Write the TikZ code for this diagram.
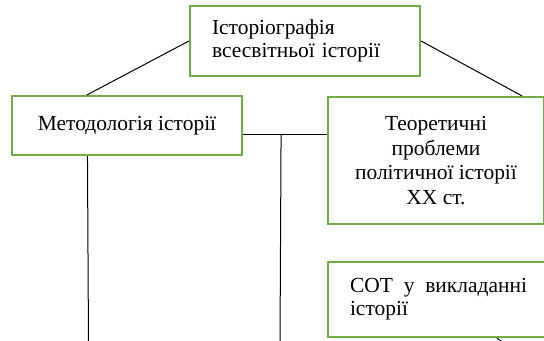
\documentclass[tikz,border=0pt]{standalone}
\usepackage{fontspec}
\setmainfont{Liberation Serif}
\definecolor{boxgreen}{HTML}{70AD47}
\begin{document}
\begin{tikzpicture}[x=0.75pt,y=-0.75pt,
  gbox/.style={draw=boxgreen, line width=1.6pt, rectangle, fill=white},
  conn/.style={draw=black, line width=0.75pt}]
\useasboundingbox (0,0) rectangle (544,340);
\clip (0,0) rectangle (544,340);
% top box
\node[gbox, minimum width=172.5pt, minimum height=52.5pt, text width=139.5pt, inner xsep=16.5pt, align=left,
  font=\fontsize{16.1pt}{17.3pt}\selectfont] (top) at (305,41) {Історіографія\\всесвітньої історії};
% left box
\node[gbox, minimum width=172.5pt, minimum height=44.25pt, align=center,
  font=\fontsize{16.1pt}{17.3pt}\selectfont] (left) at (127,125.5) {Методологія історії};
% right box
\node[gbox, minimum width=162pt, minimum height=95.25pt, align=center,
  font=\fontsize{16.1pt}{18.4pt}\selectfont] (right) at (436,160.5) {Теоретичні\\проблеми\\політичної історії\\XX ст.};
% cot box
\node[gbox, minimum width=165.75pt, minimum height=56.25pt, text width=132.75pt, inner xsep=16.5pt, align=left,
  font=\fontsize{16.1pt}{17.3pt}\selectfont] (cot) at (438.5,299.5) {СОТ\hfill у\hfill викладанні\\історії};
% connectors
\draw[conn] (top.west) -- ([xshift=57pt]left.north west);
\draw[conn] (top.east) -- ([xshift=-17.25pt]right.north east);
\coordinate (h1) at ([yshift=-7pt]left.east);
\draw[conn] (h1) -- (h1 -| right.west);
\coordinate (j) at ([xshift=28.5pt]h1);
\coordinate (jend) at (280,345);
\draw[conn] (j) -- (jend);
\coordinate (lend) at (88.5,345);
\draw[conn] ([xshift=57.4pt]left.south west) -- (lend);
\coordinate (tickend) at (502,342);
\draw[conn] ([xshift=127.5pt]cot.south west) -- (tickend);
\end{tikzpicture}
\end{document}
